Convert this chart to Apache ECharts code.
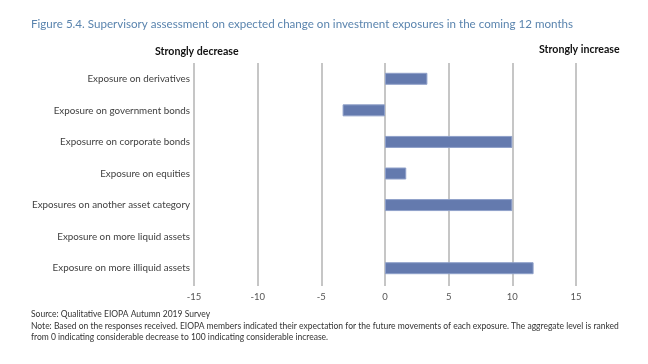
<!DOCTYPE html>
<html>
<head>
<meta charset="utf-8">
<script src="https://cdn.jsdelivr.net/npm/echarts@6/dist/echarts.min.js"></script>
<style>
html,body{margin:0;padding:0;background:#fff;}
#chart{width:648px;height:364px;}
</style>
</head>
<body>
<div id="chart"></div>
<script>
const categories = [
  "Exposure on derivatives",
  "Exposure on government bonds",
  "Exposurre on corporate bonds",
  "Exposure on equities",
  "Exposures on another asset category",
  "Exposure on more liquid assets",
  "Exposure on more illiquid assets"
];
const values = [3.33, -3.33, 10, 1.67, 10, 0, 11.67];
const xTicks = [-15, -10, -5, 0, 5, 10, 15];
const titleText = "Figure 5.4. Supervisory assessment on expected change on investment exposures in the coming 12 months";
const leftLabel = "Strongly decrease";
const rightLabel = "Strongly increase";
const sourceText = "Source: Qualitative EIOPA Autumn 2019 Survey";
const noteLines = [
  "Note: Based on the responses received. EIOPA members indicated their expectation for the future movements of each exposure. The aggregate level is ranked",
  "from 0 indicating considerable decrease to 100 indicating considerable increase."
];

const FONT = "Lato";
const barData = values.map(v => (v === 0 ? {value: v, itemStyle: {borderWidth: 0, opacity: 0}} : v));
const chart = echarts.init(document.getElementById('chart'), null, {renderer: 'canvas'});
chart.setOption({
  animation: false,
  backgroundColor: '#ffffff',
  textStyle: {fontFamily: FONT},
  graphic: [
    {type: 'text', left: 31, top: 18, style: {text: titleText, font: '11.6px ' + FONT, fill: '#5a84ae'}},
    {type: 'text', left: 155, top: 46, style: {text: leftLabel, font: 'bold 10.6px ' + FONT, fill: '#111'}},
    {type: 'text', left: 539, top: 44, style: {text: rightLabel, font: 'bold 10.6px ' + FONT, fill: '#111'}},
    {type: 'text', left: 31, top: 310, style: {text: sourceText, font: '8.5px ' + FONT, fill: '#333'}},
    {type: 'text', left: 31, top: 321, style: {text: noteLines.join('\n'), font: '8.5px ' + FONT, fill: '#333', lineHeight: 11}}
  ],
  grid: {left: 194, right: 72, top: 63, bottom: 80, containLabel: false},
  xAxis: {
    type: 'value', min: xTicks[0], max: xTicks[xTicks.length - 1], interval: 5,
    axisLine: {show: false},
    axisTick: {show: true, length: 2, lineStyle: {color: '#b3b3b3', width: 1.5}},
    splitLine: {show: true, lineStyle: {color: '#b3b3b3', width: 1.5}},
    axisLabel: {color: '#555', fontSize: 9.5, fontFamily: FONT, margin: 8}
  },
  yAxis: {
    type: 'category', data: categories, inverse: true,
    axisLine: {show: false}, axisTick: {show: false},
    axisLabel: {color: '#404040', fontSize: 9.8, fontFamily: FONT, margin: 4}
  },
  series: [{
    type: 'bar', data: barData, barWidth: 12,
    itemStyle: {color: '#647aae', borderColor: '#8fa0c9', borderWidth: 1}
  }]
});
</script>
</body>
</html>
